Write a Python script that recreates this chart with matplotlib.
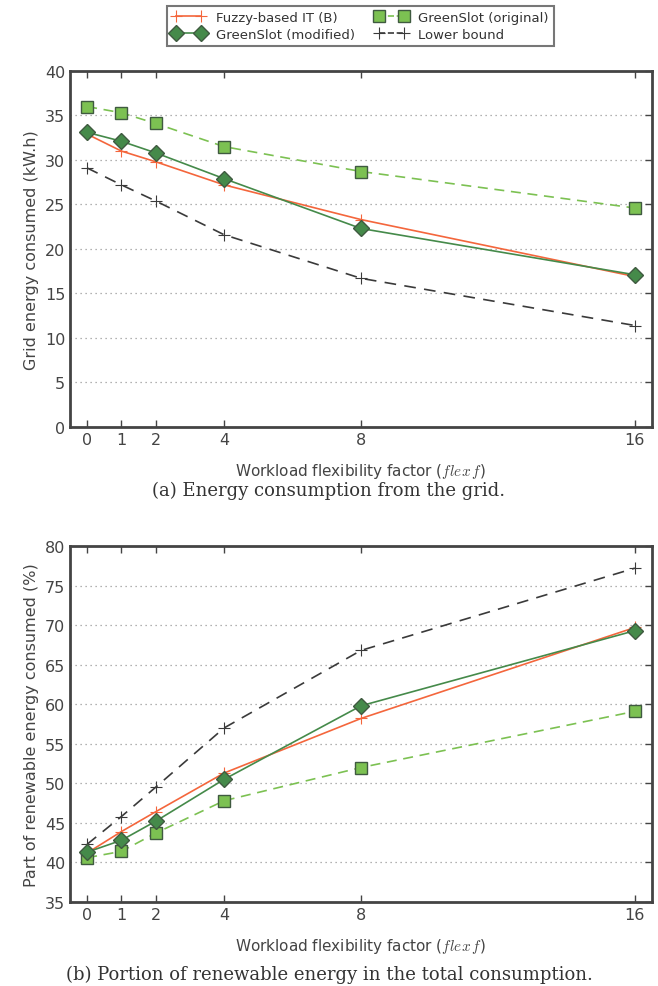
import matplotlib
matplotlib.use("Agg")
import matplotlib.pyplot as plt
from matplotlib.lines import Line2D

plt.rcParams['font.family'] = 'DejaVu Sans'
plt.rcParams['mathtext.fontset'] = 'cm'

# flexibility factor values
flexf = [0, 1, 2, 4, 8, 16]

# (a) grid energy consumed (kW.h)
grid_fuzzy = [32.9, 31.0, 29.8, 27.2, 23.3, 16.9]
grid_gs_mod = [33.1, 32.1, 30.8, 27.9, 22.3, 17.1]
grid_gs_orig = [36.0, 35.3, 34.1, 31.5, 28.7, 24.6]
grid_lower = [29.1, 27.2, 25.4, 21.6, 16.7, 11.4]

# (b) part of renewable energy consumed (%)
ren_fuzzy = [41.2, 43.9, 46.4, 51.3, 58.2, 69.7]
ren_gs_mod = [41.3, 42.8, 45.2, 50.5, 59.8, 69.3]
ren_gs_orig = [40.6, 41.4, 43.7, 47.8, 52.0, 59.1]
ren_lower = [42.3, 45.8, 49.5, 57.0, 66.8, 77.2]

red = '#f4663c'
dark_green = '#458a4a'
light_green = '#7cc152'
edge = '#3f5a40'
gray = '#3a3a3a'
axis_col = '#444444'

fig = plt.figure(figsize=(6.58, 9.87), dpi=100)


def draw(ax, fuzzy, mod, orig, lower, ylim, ystep, ylabel):
    ax.plot(flexf, fuzzy, '-', color=red, lw=1.2, marker='+', ms=8, mew=0.8, zorder=4)
    ax.plot(flexf, mod, '-', color=dark_green, lw=1.2, marker='D', ms=8,
            mfc=dark_green, mec=edge, mew=1.0, zorder=5)
    ax.plot(flexf, orig, '--', color=light_green, lw=1.2, dashes=(6, 4), marker='s', ms=8,
            mfc=light_green, mec=edge, mew=1.0, zorder=3)
    ax.plot(flexf, lower, '--', color=gray, lw=1.2, dashes=(7, 5), marker='+', ms=8,
            mew=0.8, zorder=2)
    ax.set_xlim(-0.5, 16.5)
    ax.set_ylim(*ylim)
    ax.set_xticks(flexf)
    ax.set_yticks(range(ylim[0], ylim[1] + 1, ystep))
    ax.yaxis.grid(True, linestyle=(0, (1, 3)), color='#999999', lw=0.9)
    ax.set_axisbelow(True)
    ax.tick_params(direction='in', top=True, right=True, colors=axis_col,
                   labelsize=11.5, length=5, width=1, labelcolor='#444444')
    ax.tick_params(axis='y', left=False)
    for s in ax.spines.values():
        s.set_linewidth(2)
        s.set_edgecolor(axis_col)
    ax.set_ylabel(ylabel, fontsize=11.5, color='#444444')
    ax.set_xlabel('Workload flexibility factor ($flex\\,f$)', fontsize=11,
                  color='#444444', labelpad=10)


ax1 = fig.add_axes([0.1064, 0.5664, 0.8845, 0.3607])
draw(ax1, grid_fuzzy, grid_gs_mod, grid_gs_orig, grid_lower, (0, 40), 5,
     'Grid energy consumed (kW.h)')

ax2 = fig.add_axes([0.1064, 0.0851, 0.8845, 0.3607])
draw(ax2, ren_fuzzy, ren_gs_mod, ren_gs_orig, ren_lower, (35, 80), 5,
     'Part of renewable energy consumed (%)')

fig.text(0.5, 0.503, '(a) Energy consumption from the grid.', ha='center', va='center',
         fontsize=13, family='DejaVu Serif', color='#333333')
fig.text(0.5, 0.012, '(b) Portion of renewable energy in the total consumption.',
         ha='center', va='center', fontsize=13, family='DejaVu Serif', color='#333333')

handles = [
    Line2D([], [], color=red, lw=1.2, marker='+', ms=8, mew=0.8),
    Line2D([], [], color=dark_green, lw=1.2, marker='D', ms=8, mfc=dark_green, mec=edge),
    Line2D([], [], color=light_green, lw=1.2, ls='--', marker='s', ms=8, mfc=light_green, mec=edge),
    Line2D([], [], color=gray, lw=1.2, ls='--', marker='+', ms=8, mew=0.8),
]
labels = ['Fuzzy-based IT (B)', 'GreenSlot (modified)', 'GreenSlot (original)', 'Lower bound']
leg = fig.legend(handles, labels, loc='upper center', bbox_to_anchor=(0.548, 1.0), ncol=2,
                 numpoints=2, fontsize=9.5, frameon=True, fancybox=False,
                 handlelength=2.5, columnspacing=1.5, borderpad=0.4, labelspacing=0.3)
leg.get_frame().set_edgecolor('#555555')
leg.get_frame().set_linewidth(1.5)
for t in leg.get_texts():
    t.set_color('#333333')

fig.savefig('out.png', dpi=100)
